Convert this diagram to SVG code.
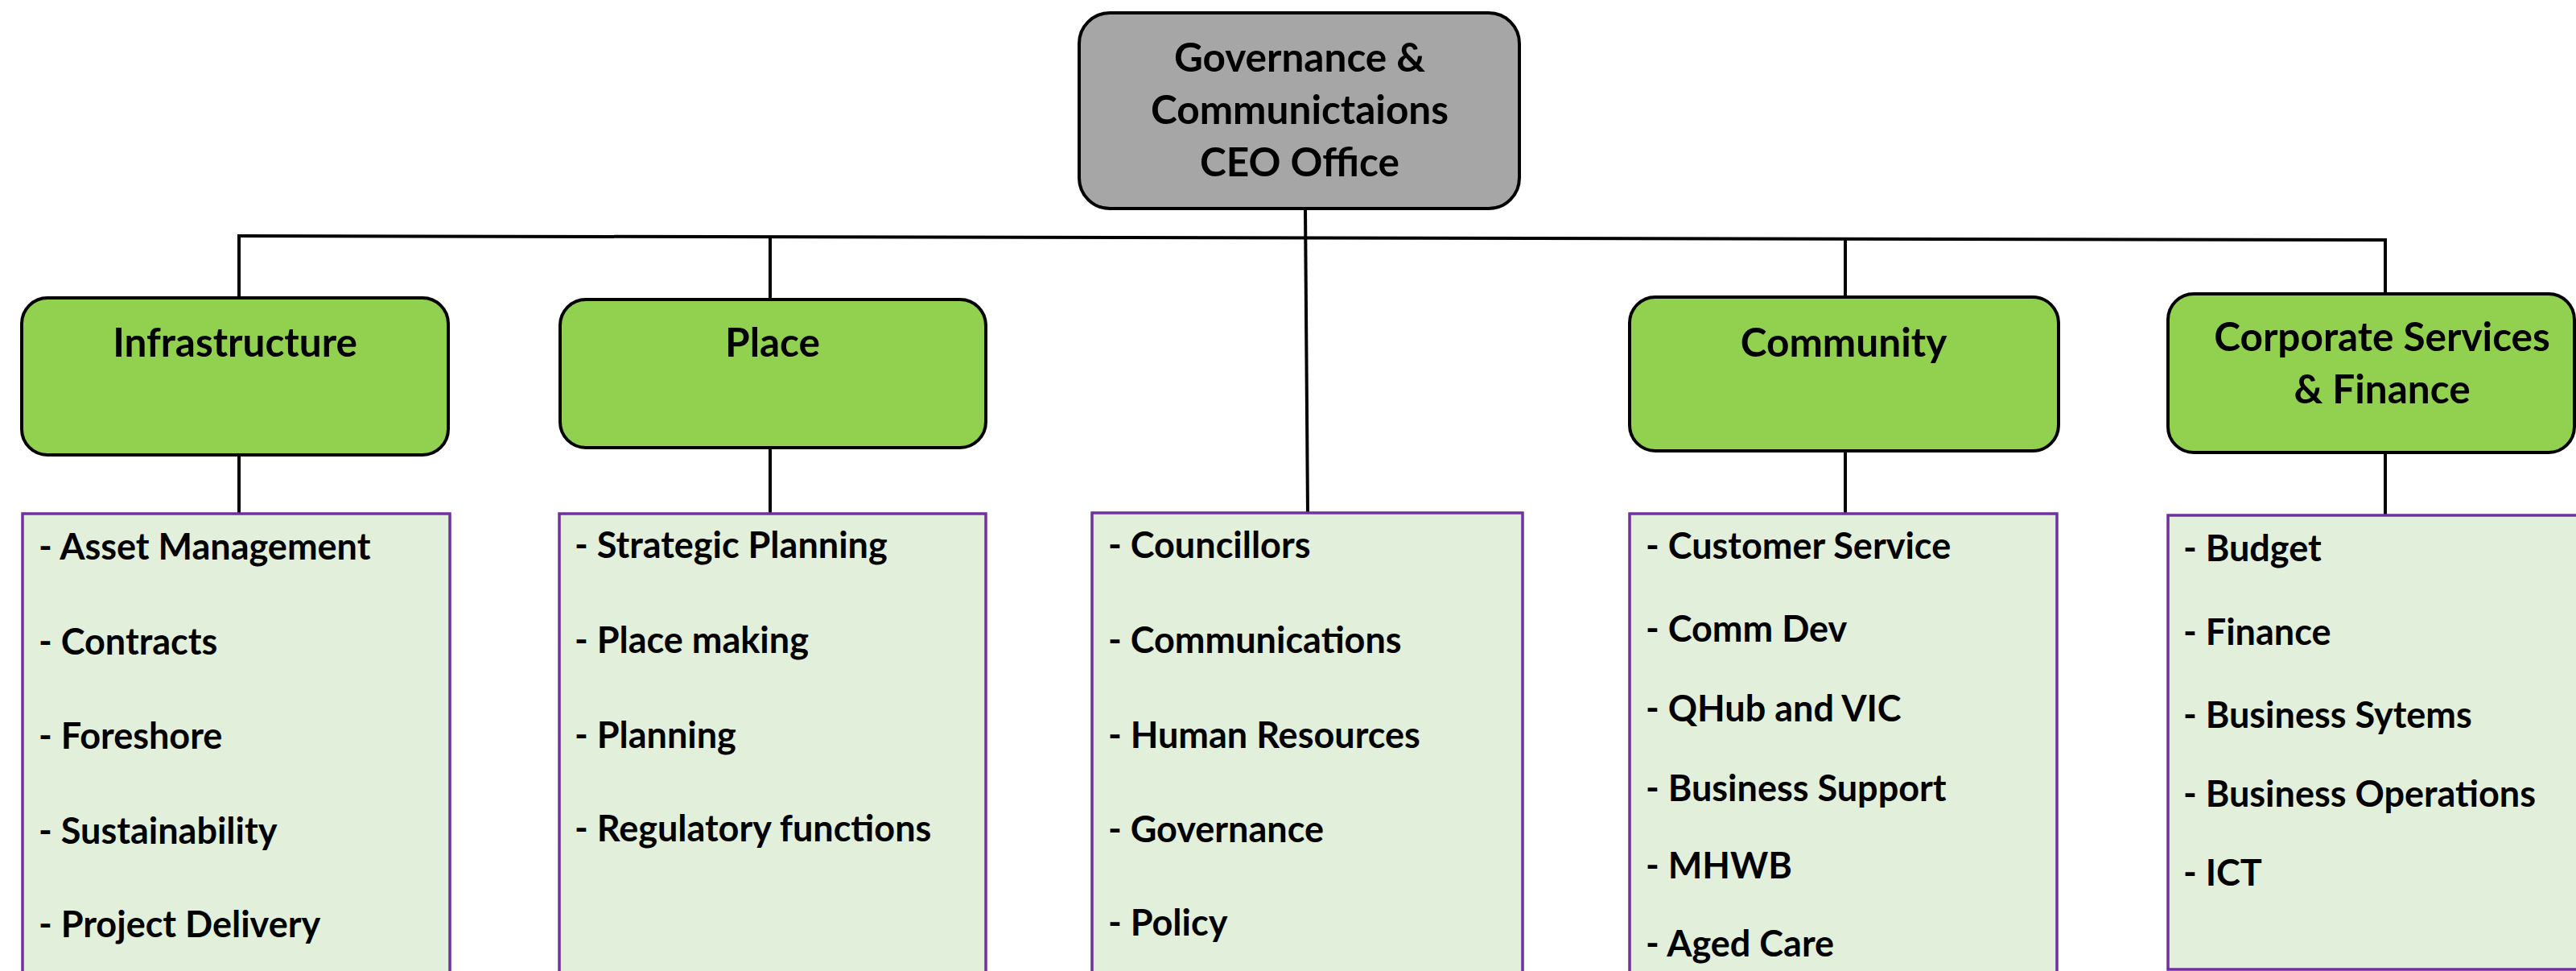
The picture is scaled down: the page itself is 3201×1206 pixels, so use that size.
<svg xmlns="http://www.w3.org/2000/svg" width="3201" height="1206" viewBox="0 0 3201 1206">
<style>
.ceo{fill:#A6A6A6;stroke:#000;stroke-width:4}
.dept{fill:#92D050;stroke:#000;stroke-width:4}
.list{fill:#E2EFDA;stroke:#7030A0;stroke-width:3.5}
.conn{stroke:#000;stroke-width:4;fill:none}
.t{font-family:Lato,"Liberation Sans",sans-serif;font-weight:bold;fill:#000}
.title{font-size:49.5px;text-anchor:middle}
.item{font-size:45px}
</style>
<rect width="3201" height="1206" fill="#fff"/>
<g id="connectors">
<line class="conn" x1="295" y1="293" x2="2966" y2="298"/>
<line class="conn" x1="297" y1="293" x2="297" y2="370"/>
<line class="conn" x1="297" y1="565" x2="297" y2="638"/>
<line class="conn" x1="957" y1="294" x2="957" y2="372"/>
<line class="conn" x1="957" y1="556" x2="957" y2="638"/>
<line class="conn" x1="1622" y1="259" x2="1625" y2="637"/>
<line class="conn" x1="2293" y1="296" x2="2293" y2="369"/>
<line class="conn" x1="2293" y1="560" x2="2293" y2="638"/>
<line class="conn" x1="2964" y1="298" x2="2964" y2="365"/>
<line class="conn" x1="2964" y1="562" x2="2964" y2="640"/>
</g>
<g id="ceo">
<rect class="ceo" x="1341" y="16" width="547" height="243" rx="38"/>
<text class="t title" x="1615" y="89">Governance &amp;</text>
<text class="t title" x="1615" y="154">Communictaions</text>
<text class="t title" x="1615" y="219">CEO Office</text>
</g>
<g id="infrastructure">
<rect class="dept" x="27" y="370" width="530" height="195" rx="32"/>
<text class="t title" x="292" y="443">Infrastructure</text>
</g>
<g id="place">
<rect class="dept" x="696" y="372" width="529" height="184" rx="32"/>
<text class="t title" x="960" y="443">Place</text>
</g>
<g id="community">
<rect class="dept" x="2025" y="369" width="533" height="191" rx="32"/>
<text class="t title" x="2291" y="443">Community</text>
</g>
<g id="corporate">
<rect class="dept" x="2694" y="365" width="505" height="197" rx="32"/>
<text class="t title" x="2960" y="436">Corporate Services</text>
<text class="t title" x="2960" y="501">&amp; Finance</text>
</g>
<g id="infrastructure-list">
<rect class="list" x="28" y="638" width="531" height="600"/>
<text class="t item" x="48" y="695">- Asset Management</text>
<text class="t item" x="48" y="813">- Contracts</text>
<text class="t item" x="48" y="930">- Foreshore</text>
<text class="t item" x="48" y="1048">- Sustainability</text>
<text class="t item" x="48" y="1164">- Project Delivery</text>
</g>
<g id="place-list">
<rect class="list" x="695" y="638" width="530" height="600"/>
<text class="t item" x="714" y="693">- Strategic Planning</text>
<text class="t item" x="714" y="811">- Place making</text>
<text class="t item" x="714" y="929">- Planning</text>
<text class="t item" x="714" y="1045">- Regulatory functions</text>
</g>
<g id="ceo-list">
<rect class="list" x="1357" y="637" width="535" height="600"/>
<text class="t item" x="1377" y="693">- Councillors</text>
<text class="t item" x="1377" y="811">- Communications</text>
<text class="t item" x="1377" y="929">- Human Resources</text>
<text class="t item" x="1377" y="1046">- Governance</text>
<text class="t item" x="1377" y="1162">- Policy</text>
</g>
<g id="community-list">
<rect class="list" x="2025" y="638" width="531" height="600"/>
<text class="t item" x="2045" y="694">- Customer Service</text>
<text class="t item" x="2045" y="797">- Comm Dev</text>
<text class="t item" x="2045" y="896">- QHub and VIC</text>
<text class="t item" x="2045" y="995">- Business Support</text>
<text class="t item" x="2045" y="1091">- MHWB</text>
<text class="t item" x="2045" y="1188">- Aged Care</text>
</g>
<g id="corporate-list">
<rect class="list" x="2694" y="640" width="540" height="564"/>
<text class="t item" x="2713" y="697">- Budget</text>
<text class="t item" x="2713" y="801">- Finance</text>
<text class="t item" x="2713" y="904">- Business Sytems</text>
<text class="t item" x="2713" y="1002">- Business Operations</text>
<text class="t item" x="2713" y="1100">- ICT</text>
</g>
</svg>
